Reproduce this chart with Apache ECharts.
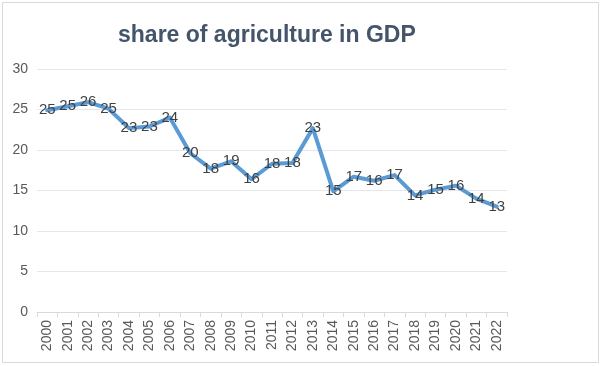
<!DOCTYPE html>
<html>
<head>
<meta charset="utf-8">
<script src="https://cdn.jsdelivr.net/npm/echarts@6/dist/echarts.min.js"></script>
<style>html,body{margin:0;padding:0;background:#fff}#c{width:601px;height:366px}</style>
</head>
<body>
<div id="c"></div>
<script>
const titleText = "share of agriculture in GDP";
const years = ["2000","2001","2002","2003","2004","2005","2006","2007","2008","2009","2010","2011","2012","2013","2014","2015","2016","2017","2018","2019","2020","2021","2022"];
const share = [24.9,25.4,25.9,25.1,22.7,22.9,24.0,19.6,17.7,18.6,16.4,18.3,18.4,22.7,14.9,16.7,16.2,16.9,14.4,15.1,15.6,14.0,13.0];
const yTicks = { min: 0, max: 30, interval: 5 };

const chart = echarts.init(document.getElementById('c'));
chart.setOption({
  backgroundColor: '#fff',
  animation: false,
  title: {
    text: titleText, left: 113, top: 19,
    textStyle: { fontFamily: 'Liberation Sans, Arial', fontSize: 23, fontWeight: 'bold', color: '#44546a' }
  },
  graphic: [{
    type: 'rect', shape: { x: 2.5, y: 2.5, width: 596, height: 360 },
    style: { fill: 'none', stroke: '#d9d9d9', lineWidth: 1 }, silent: true, z: -1
  }],
  grid: { left: 37, right: 94, top: 69, bottom: 54, containLabel: false },
  xAxis: {
    type: 'category', data: years, boundaryGap: true,
    axisLine: { lineStyle: { color: '#d9d9d9' } },
    axisTick: { show: true, alignWithLabel: false, length: 5, lineStyle: { color: '#d9d9d9' } },
    axisLabel: { rotate: 90, interval: 0, margin: 8, fontFamily: 'Liberation Sans, Arial', fontSize: 14, color: '#595959' }
  },
  yAxis: {
    type: 'value', min: yTicks.min, max: yTicks.max, interval: yTicks.interval,
    axisLine: { show: false }, axisTick: { show: false },
    splitLine: { lineStyle: { color: '#e3e6ec', width: 1 } },
    axisLabel: { margin: 9, fontFamily: 'Liberation Sans, Arial', fontSize: 14, color: '#595959' }
  },
  series: [{
    type: 'line', data: share, symbol: 'circle', symbolSize: 0, showSymbol: true,
    lineStyle: { color: '#5b9bd5', width: 4, cap: 'round', join: 'round' },
    itemStyle: { color: '#5b9bd5' },
    label: {
      show: true, position: 'inside',
      formatter: p => Math.round(p.value),
      fontFamily: 'Liberation Sans, Arial', fontSize: 15, color: '#404040'
    }
  }]
});
</script>
</body>
</html>
